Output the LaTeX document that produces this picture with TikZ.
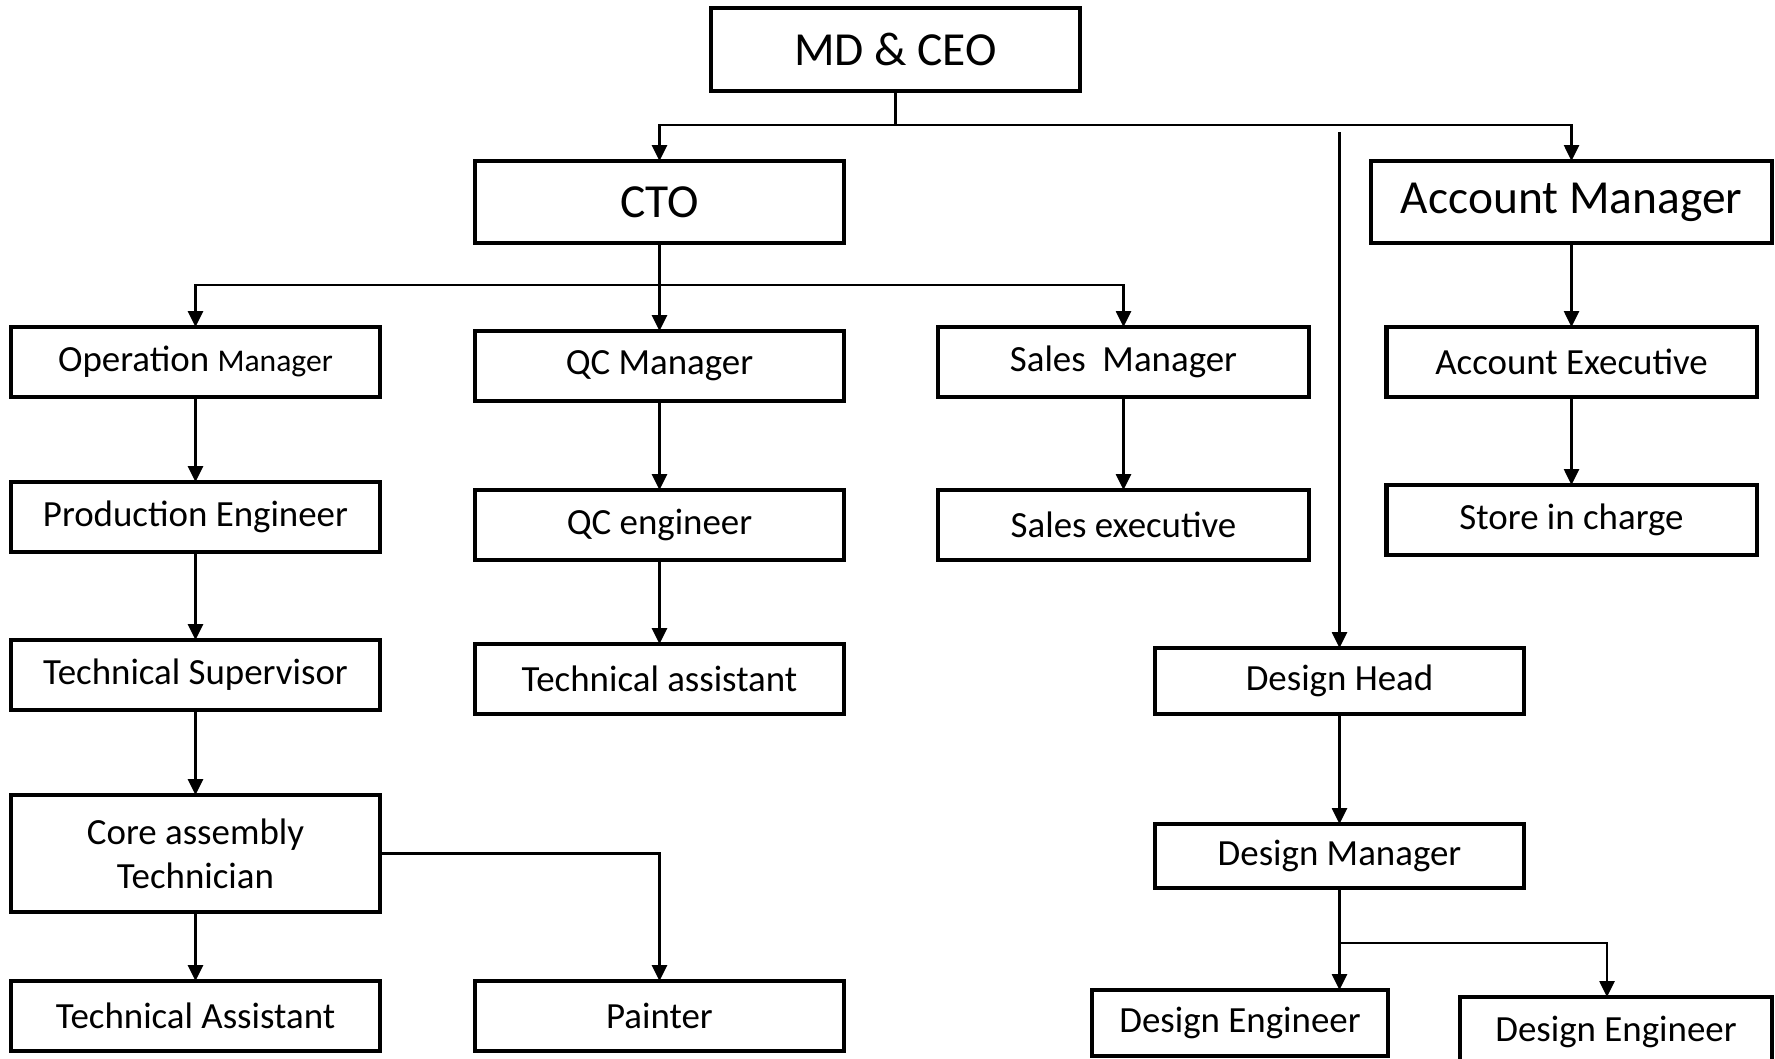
\documentclass[tikz,border=0pt]{standalone}
\usepackage{fontspec}
\setmainfont{Carlito}
\usepackage{tikz}
\usetikzlibrary{arrows.meta,positioning}

\begin{document}
\begin{tikzpicture}[
  post/.style={rectangle, draw, line width=1.15pt, outer sep=0pt, inner sep=0pt,
    minimum width=36.9mm, minimum height=7mm, align=center,
    font=\fontsize{10.5}{12.5}\selectfont},
  toppost/.style={post, minimum height=8.2mm, font=\fontsize{13.5}{16}\selectfont},
  arr/.style={-{Triangle[length=1.6mm, width=1.5mm]}, line width=0.75pt},
  link/.style={line width=0.75pt}
]
\useasboundingbox (0,0) rectangle (177.5mm,-105.8mm);

% Top
\node[toppost, minimum height=8.3mm] (ceo) at (89.55mm,-4.95mm) {MD \& CEO};
\node[toppost, below=7mm of ceo, xshift=-23.6mm] (cto) {CTO};
\node[toppost, minimum width=40.1mm, below=7mm of ceo, xshift=67.6mm] (acm) {Account Manager};
\coordinate[below=3.4mm of ceo] (ceobus);

\draw[link] (ceo) -- (ceobus);
\draw[arr] (ceobus) -| (cto);
\draw[arr] (ceobus) -| (acm);

% CTO branch
\node[post, below=8.4mm of cto, xshift=-46.4mm] (opm) {Operation {\fontsize{9}{11}\selectfont Manager}};
\node[post, below=8.8mm of cto] (qcm) {QC Manager};
\node[post, minimum width=37.1mm, below=8.4mm of cto, xshift=46.4mm] (slm) {Sales\ \ Manager};
\coordinate[below=4.2mm of cto] (ctobus);

\draw[link] (cto) -- (ctobus);
\draw[arr] (ctobus) -| (opm);
\draw[arr] (ctobus) -- (qcm);
\draw[arr] (ctobus) -| (slm);

% Operation chain
\node[post, below=8.5mm of opm] (pre) {Production Engineer};
\node[post, below=8.8mm of pre] (tsu) {Technical Supervisor};
\node[post, minimum height=11.7mm, below=8.5mm of tsu] (cat) {Core assembly\\Technician};
\node[post, below=6.9mm of cat] (tac) {Technical Assistant};
\node[post, right=9.5mm of tac] (pai) {Painter};

\draw[arr] (opm) -- (pre);
\draw[arr] (pre) -- (tsu);
\draw[arr] (tsu) -- (cat);
\draw[arr] (cat) -- (tac);
\draw[arr] (cat.east) -| (pai);

% QC chain
\node[post, below=8.9mm of qcm] (qce) {QC engineer};
\node[post, below=8.4mm of qce] (tas) {Technical assistant};

\draw[arr] (qcm) -- (qce);
\draw[arr] (qce) -- (tas);

% Sales chain
\node[post, minimum width=37.1mm, below=9.3mm of slm] (sle) {Sales executive};
\draw[arr] (slm) -- (sle);

% Account chain
\node[post, minimum width=37mm, below=8.4mm of acm] (ace) {Account Executive};
\node[post, minimum width=37mm, below=8.8mm of ace] (sic) {Store in charge};

\draw[arr] (acm) -- (ace);
\draw[arr] (ace) -- (sic);

% Design chain
\node[post, minimum height=6.6mm, below=8.8mm of sle, xshift=21.6mm] (dhe) {Design Head};
\node[post, minimum height=6.4mm, below=11mm of dhe] (dma) {Design Manager};
\node[post, minimum width=29.6mm, minimum height=6.6mm, below=10.2mm of dma, xshift=-9.95mm] (de1) {Design Engineer};
\node[post, minimum width=31.2mm, minimum height=7mm, below=10.9mm of dma, xshift=27.65mm] (de2) {Design Engineer};
\coordinate[above=51.6mm of dhe] (dhetop);
\coordinate[below=5.5mm of dma] (dmabus);

\draw[arr] (dhetop) -- (dhe);
\draw[arr] (dhe) -- (dma);
\draw[arr] (dma) -- (dma.south |- de1.north);
\draw[arr] (dmabus) -| ([xshift=-0.9mm]de2.north);

\end{tikzpicture}
\end{document}
